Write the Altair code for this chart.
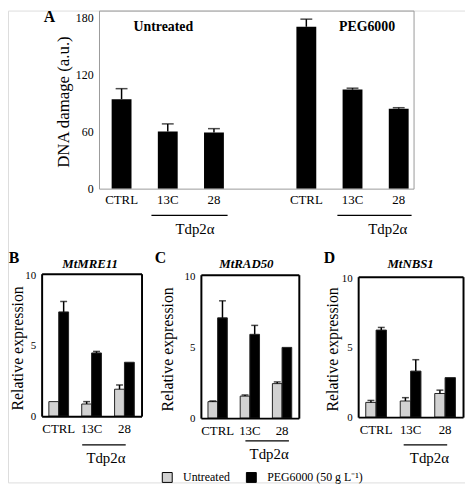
import altair as alt
import pandas as pd

# ---------------- data ----------------
groups = ["CTRL", "13C", "28"]
treatments = ["Untreated", "PEG6000 (50 g L\u207b\u00b9)"]

dna_untreated = [94, 60, 59]
dna_untreated_err = [11, 8, 4]
dna_peg = [170, 104, 84]
dna_peg_err = [8, 1.5, 1]

mre11_untreated = [1.03, 0.86, 1.91]
mre11_untreated_err = [0.0, 0.17, 0.30]
mre11_peg = [7.39, 4.48, 3.82]
mre11_peg_err = [0.74, 0.11, 0.0]

rad50_untreated = [1.16, 1.55, 2.43]
rad50_untreated_err = [0.05, 0.08, 0.12]
rad50_peg = [7.06, 5.90, 4.98]
rad50_peg_err = [1.20, 0.63, 0.0]

nbs1_untreated = [1.06, 1.16, 1.70]
nbs1_untreated_err = [0.14, 0.24, 0.24]
nbs1_peg = [6.26, 3.31, 2.84]
nbs1_peg_err = [0.19, 0.82, 0.0]

# ---------------- layout / style ----------------
W, H = 462, 477
FONT = "Liberation Serif"
GRAY = "#d2d2d2"
AFRAME = "#9a9a9a"

layers = []


def text_layer(txt, x, y, size, weight="normal", style="normal", align="center"):
    return alt.Chart(pd.DataFrame({"t": [txt]})).mark_text(
        font=FONT, fontSize=size, fontWeight=weight, fontStyle=style,
        align=align, baseline="middle", color="black"
    ).encode(x=alt.value(x), y=alt.value(y), text="t:N")


def line_layer(x0, x1, y):
    return alt.Chart(pd.DataFrame({"t": [0]})).mark_rule(
        color="black", strokeWidth=1.3
    ).encode(x=alt.value(x0), x2=alt.value(x1), y=alt.value(y))


# ---------------- panel A ----------------
a_keys = ["U|" + g for g in groups] + ["gap"] + ["P|" + g for g in groups]
a_df = pd.DataFrame({
    "key": ["U|" + g for g in groups] + ["P|" + g for g in groups],
    "value": dna_untreated + dna_peg,
    "err": dna_untreated_err + dna_peg_err,
})
a_df["top"] = a_df["value"] + a_df["err"]

AX0, AX1, AY0, AY1 = 92, 410, 0, 180
ax_scale = alt.Scale(domain=a_keys, range=[AX0, AX1], paddingInner=0.57,
                     paddingOuter=0.19, align=0.72)
ay_scale = alt.Scale(domain=[0, 187], range=[AY1, AY0], nice=False, zero=False)

a_bars = alt.Chart(a_df).mark_bar(color="black").encode(
    x=alt.X("key:N", scale=ax_scale, axis=alt.Axis(
        orient="bottom", offset=AY1 - H, title=None, ticks=False, grid=False,
        labelExpr="indexof(datum.value, '|') >= 0 ? split(datum.value, '|')[1] : ''",
        labelFont=FONT, labelFontSize=13, labelColor="black", labelPadding=5,
        labelAngle=0, domainColor=AFRAME, domainWidth=1, zindex=1)),
    y=alt.Y("value:Q", scale=ay_scale, axis=alt.Axis(
        orient="left", offset=-AX0, values=[0, 60, 120, 180], ticks=False,
        grid=False, labelFont=FONT, labelFontSize=12, labelColor="black",
        labelPadding=6, labelFlush=False, domainColor=AFRAME, domainWidth=1,
        title="DNA damage (a.u.)", titleFont=FONT, titleFontSize=17,
        titleFontWeight="normal", titleColor="black", titleAngle=270,
        titleX=-36, titleY=92, titleAlign="center", titleBaseline="middle",
        zindex=1)),
)
a_err = alt.Chart(a_df).transform_filter("datum.err > 0").mark_rule(
    color="black", strokeWidth=1.5).encode(
    x=alt.X("key:N", scale=ax_scale, axis=alt.Axis(
        orient="top", offset=-AY0, labels=False, ticks=False, title=None,
        grid=False, domainColor=AFRAME, domainWidth=1, zindex=1)),
    y=alt.Y("value:Q", scale=ay_scale, axis=alt.Axis(
        orient="right", offset=AX1 - W, labels=False, ticks=False, title=None,
        grid=False, domainColor=AFRAME, domainWidth=1, zindex=1)),
    y2="top:Q",
)
a_cap = alt.Chart(a_df).transform_filter("datum.err > 0").mark_tick(
    color="black", thickness=1.5, size=12).encode(
    x=alt.X("key:N", scale=ax_scale, axis=None),
    y=alt.Y("top:Q", scale=ay_scale, axis=None),
)
layers += [a_bars, a_err, a_cap]
layers += [
    text_layer("A", 42, 7, 16, weight="bold"),
    text_layer("Untreated", 157, 17, 14, weight="bold"),
    text_layer("PEG6000", 363, 17, 14, weight="bold"),
    line_layer(145, 222, 207),
    line_layer(333, 408, 207),
    text_layer("Tdp2\u03b1", 189, 221, 15),
    text_layer("Tdp2\u03b1", 384, 221, 15),
]

# ---------------- panels B, C, D ----------------
LEGEND = alt.Legend(
    orient="none", legendX=155, legendY=466, direction="horizontal",
    title=None, symbolType="square", symbolSize=100,
    symbolStrokeColor="black", symbolStrokeWidth=1,
    labelFont=FONT, labelFontSize=12, labelColor="black",
    labelOffset=10, columnPadding=14, padding=0, offset=0,
)


def small_panel(untr, untr_err, peg, peg_err, x0, x1, y0, y1, title_x, title_y):
    df = pd.DataFrame({
        "group": groups * 2,
        "treat": [treatments[0]] * 3 + [treatments[1]] * 3,
        "value": untr + peg,
        "err": untr_err + peg_err,
    })
    df["top"] = df["value"] + df["err"]
    xs = alt.Scale(domain=groups, range=[x0, x1], paddingInner=0.4,
                   paddingOuter=0.22)
    ys = alt.Scale(domain=[0, 10.1], range=[y1, y0], nice=False, zero=False)
    os_ = alt.Scale(domain=treatments)
    bars = alt.Chart(df).mark_bar(stroke="#222", strokeWidth=1).encode(
        x=alt.X("group:N", scale=xs, axis=alt.Axis(
            orient="bottom", offset=y1 - H, title=None, ticks=False, grid=False,
            labelFont=FONT, labelFontSize=13, labelColor="black",
            labelPadding=7, labelAngle=0, domainColor="black", domainWidth=2,
            zindex=1)),
        y=alt.Y("value:Q", scale=ys, axis=alt.Axis(
            orient="left", offset=-x0, values=[0, 5, 10], ticks=False,
            grid=False, labelFont=FONT, labelFontSize=11, labelColor="black",
            labelPadding=6, labelFlush=False, domainColor="black",
            domainWidth=2, title="Relative expression", titleFont=FONT,
            titleFontSize=16, titleFontWeight="normal", titleColor="black",
            titleAngle=270, titleX=title_x, titleY=title_y,
            titleAlign="center", titleBaseline="middle", zindex=1)),
        xOffset=alt.XOffset("treat:N", scale=os_),
        color=alt.Color("treat:N", scale=alt.Scale(domain=treatments,
                                                   range=[GRAY, "black"]),
                        legend=LEGEND),
    )
    err = alt.Chart(df).transform_filter("datum.err > 0").mark_rule(
        color="black", strokeWidth=1.5).encode(
        x=alt.X("group:N", scale=xs, axis=alt.Axis(
            orient="top", offset=-y0, labels=False, ticks=False, title=None,
            grid=False, domainColor="black", domainWidth=2, zindex=1)),
        y=alt.Y("value:Q", scale=ys, axis=alt.Axis(
            orient="right", offset=x1 - W, labels=False, ticks=False,
            title=None, grid=False, domainColor="black", domainWidth=2,
            zindex=1)),
        y2="top:Q",
        xOffset=alt.XOffset("treat:N", scale=os_),
    )
    cap = alt.Chart(df).transform_filter("datum.err > 0").mark_tick(
        color="black", thickness=1.5, size=7).encode(
        x=alt.X("group:N", scale=xs, axis=None),
        y=alt.Y("top:Q", scale=ys, axis=None),
        xOffset=alt.XOffset("treat:N", scale=os_),
    )
    return [bars, err, cap]


layers += small_panel(mre11_untreated, mre11_untreated_err, mre11_peg,
                      mre11_peg_err, 34, 135, 266, 410, -24, 341)
layers += small_panel(rad50_untreated, rad50_untreated_err, rad50_peg,
                      rad50_peg_err, 195, 294, 267, 412, -34, 342)
layers += small_panel(nbs1_untreated, nbs1_untreated_err, nbs1_peg,
                      nbs1_peg_err, 354, 460, 269, 411, -26, 342)

layers += [
    text_layer("B", 6, 250, 16, weight="bold"),
    text_layer("C", 154, 250, 16, weight="bold"),
    text_layer("D", 325, 250, 16, weight="bold"),
    text_layer("MtMRE11", 83, 256, 13, weight="bold", style="italic"),
    text_layer("MtRAD50", 241, 256, 13, weight="bold", style="italic"),
    text_layer("MtNBS1", 407, 256, 13, weight="bold", style="italic"),
    line_layer(75, 119, 439),
    line_layer(240, 284, 435),
    line_layer(400, 444, 439),
    text_layer("Tdp2\u03b1", 99, 452, 15),
    text_layer("Tdp2\u03b1", 264, 448, 15),
    text_layer("Tdp2\u03b1", 426, 452, 15),
]

chart = alt.layer(*layers).resolve_scale(
    x="independent", y="independent", xOffset="independent"
).properties(
    width=W, height=H, padding=0,
    autosize=alt.AutoSizeParams(type="none"),
).configure_view(stroke=None).configure(font=FONT)

chart.save("out.html", embed_options={"renderer": "svg", "actions": False})
